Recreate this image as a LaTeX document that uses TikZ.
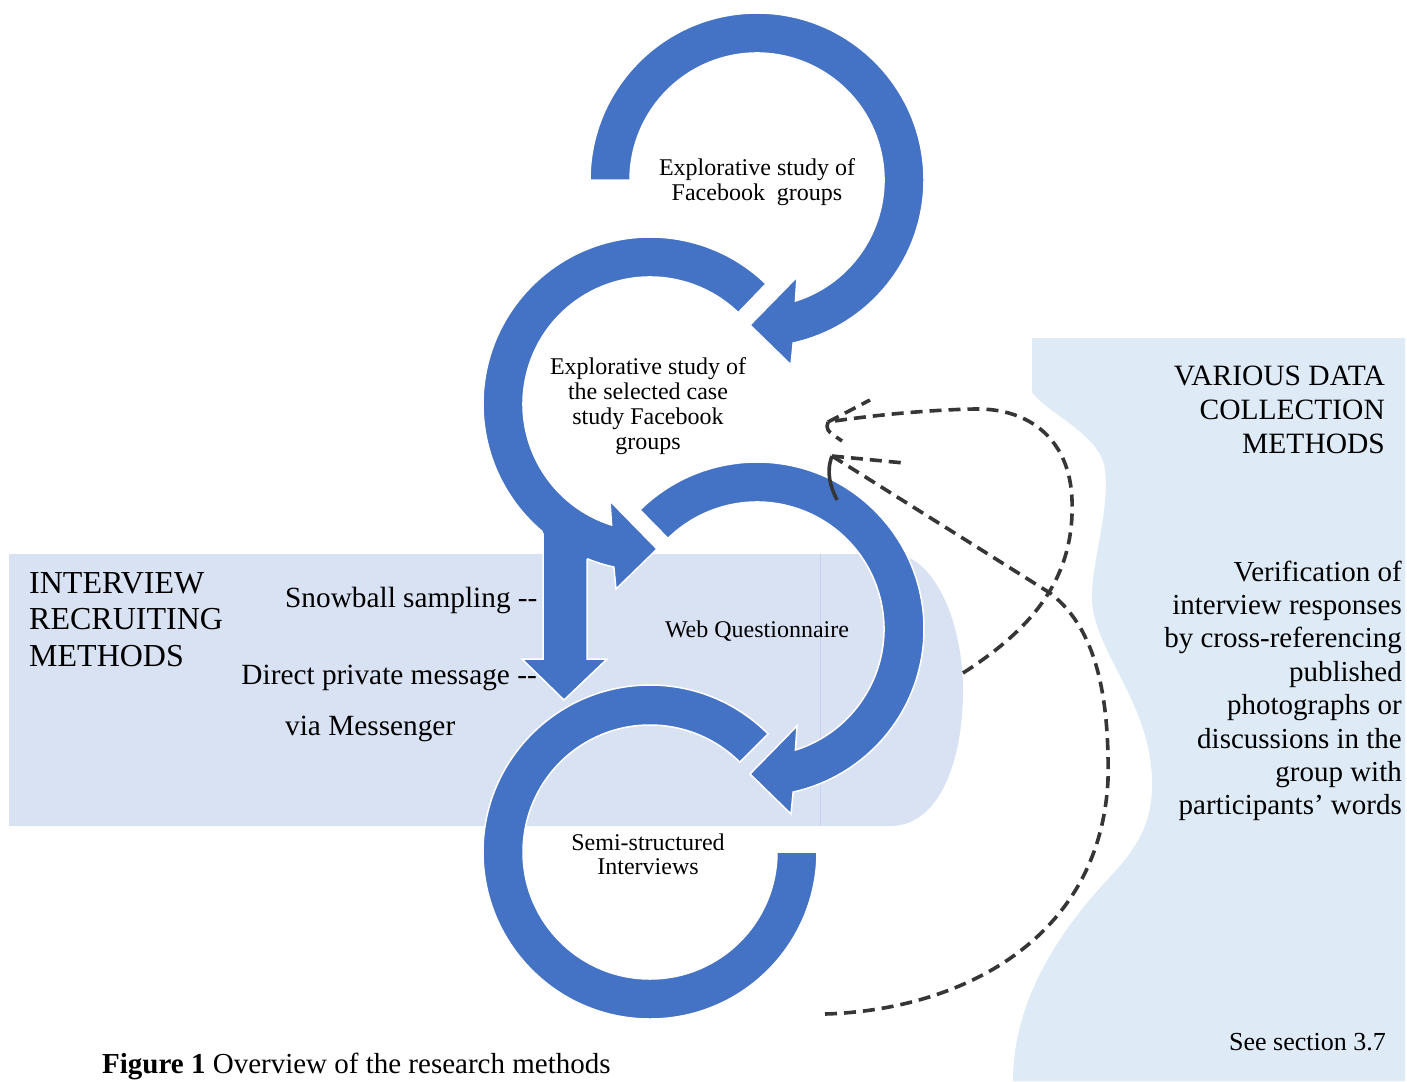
\documentclass[tikz,border=0pt]{standalone}
\usepackage{fontspec}
\setmainfont{Liberation Serif}
\definecolor{ringblue}{HTML}{4472C4}
\definecolor{bandblue}{HTML}{D9E2F3}
\definecolor{panelblue}{HTML}{DEEBF7}
\definecolor{dashgray}{HTML}{363636}
\definecolor{seamblue}{HTML}{C5D3EC}
\newcommand{\txtlines}[2]{\begin{tabular}[t]{@{}#1@{}}#2\end{tabular}}
\begin{document}
\begin{tikzpicture}[x=1pt,y=-1pt,
  ringshape/.style={fill=ringblue, draw=white, line width=1.5pt},
  dashconn/.style={draw=dashgray, line width=3.6pt, dash pattern=on 12pt off 7pt},
  solidbarb/.style={draw=dashgray, line width=3.6pt},
  lbl/.style={inner sep=0pt, anchor=base, text=black},
]
\useasboundingbox (0,0) rectangle (1407,1081);
\clip (0,0) rectangle (1407,1081);
\fill[white] (0,0) rectangle (1407,1081);

% left band
\fill[bandblue] (9,554) -- (900,554) .. controls (940,565) and (963,630) .. (963,690)
  .. controls (963,760) and (940,826) .. (890,826) -- (9,826) -- cycle;
\draw[seamblue, line width=0.8pt] (820,554) -- (820,826);

% right panel
\fill[panelblue] (1032,338) -- (1405,338) -- (1405,1081) -- (1013,1081)
  .. controls (1013,1000) and (1060,930) .. (1110,877)
  .. controls (1140,845) and (1153,820) .. (1152,780)
  .. controls (1150,700) and (1092,650) .. (1092,597)
  .. controls (1092,560) and (1110,510) .. (1105,470)
  .. controls (1102,435) and (1045,412) .. (1032,392) -- cycle;

% ring 1
\begin{scope}[shift={(757,180)}]
\path[ringshape] (180:167) arc[start angle=180, end angle=437.5, radius=167]
  -- (34,185) -- (-7,145) -- (40,97) -- (432.4:127)
  arc[start angle=432.4, end angle=180, radius=127] -- cycle;
\end{scope}
% ring 2
\begin{scope}[shift={(650,404)}, xscale=-1]
\path[ringshape] (226:167) arc[start angle=226, end angle=437.5, radius=167]
  -- (34,185) -- (-7,145) -- (40,97) -- (432.4:127)
  arc[start angle=432.4, end angle=226, radius=127] -- cycle;
\end{scope}
% ring 3
\begin{scope}[shift={(757,629)}]
\path[ringshape] (225.5:167) arc[start angle=225.5, end angle=437.5, radius=167]
  -- (34,185) -- (-7,145) -- (40,97) -- (432.4:127)
  arc[start angle=432.4, end angle=225.5, radius=127] -- cycle;
\end{scope}
% ring 4
\begin{scope}[shift={(650,852)}, xscale=-1]
\path[ringshape] (225:167) arc[start angle=225, end angle=540, radius=167]
  -- (540:127) arc[start angle=540, end angle=225, radius=127] -- cycle;
\end{scope}

% down arrow
\fill[ringblue] (543,520) -- (543,659) -- (522,659) -- (564,700) -- (607,659) -- (587,659) -- (587,520) -- cycle;
\draw[white, line width=1.5pt] (543,533) -- (543,659) -- (522,659) -- (564,700) -- (607,659) -- (587,659) -- (587,559);

% texts
\node[lbl, font=\fontsize{24}{25}\selectfont] (t1) at (757,175) {\txtlines{c}{Explorative study of\\Facebook~ groups}};
\node[lbl, font=\fontsize{24}{25}\selectfont] (t2) at (648,374) {\txtlines{c}{Explorative study of\\the selected case\\study Facebook\\groups}};
\node[lbl, font=\fontsize{24}{25}\selectfont] (t3) at (757,637) {Web Questionnaire};
\node[lbl, font=\fontsize{24}{24.5}\selectfont] (t4) at (648,850) {\txtlines{c}{Semi-structured\\Interviews}};
\node[lbl, anchor=base west, font=\fontsize{32}{36.5}\selectfont] (t5) at (29,593) {\txtlines{l}{INTERVIEW\\RECRUITING\\METHODS}};
\node[lbl, anchor=base west, font=\fontsize{29.3}{34}\selectfont] (t6) at (285,607) {Snowball sampling -{}-};
\node[lbl, anchor=base east, font=\fontsize{29.3}{34}\selectfont] (t7) at (537,684) {Direct private message -{}-};
\node[lbl, anchor=base west, font=\fontsize{29.3}{34}\selectfont] (t8) at (285,735) {via Messenger};
\node[lbl, anchor=base east, font=\fontsize{29.5}{34}\selectfont] (t9) at (1385,385) {\txtlines{r}{VARIOUS DATA\\COLLECTION\\METHODS}};
\node[lbl, anchor=base east, font=\fontsize{29}{33.4}\selectfont] (t10) at (1402,581) {\txtlines{r}{Verification of\\interview responses\\by cross-referencing\\published\\photographs or\\discussions in the\\group with\\participants’ words}};
\node[lbl, anchor=base east, font=\fontsize{26}{30}\selectfont] (t11) at (1386,1050) {See section 3.7};
\node[lbl, anchor=base west, font=\fontsize{29}{33}\selectfont] (cap) at (102,1073) {\textbf{Figure 1} Overview of the research methods};

% dashed connectors
\coordinate (a0) at (963,673);
\coordinate (a1) at (828,422);
\coordinate (a2) at (870,400);
\coordinate (a3) at (842,441);
\draw[dashconn] (a0) .. controls (1030,630) and (1075,580) .. (1072,500)
  .. controls (1070,440) and (1030,408) .. (975,409)
  .. controls (920,410) and (860,417) .. (a1);
\draw[dashconn] (a1) -- (a2);
\draw[dashconn] (a1) .. controls (826,430) .. (a3);

\coordinate (b0) at (825,1014);
\coordinate (b1) at (832,456);
\coordinate (b2) at (904,463);
\coordinate (b3) at (837,500);
\draw[dashconn] (b0) .. controls (960,1010) and (1100,940) .. (1108,780)
  .. controls (1110,670) and (1085,620) .. (1050,593) -- (b1);
\draw[dashconn] (b1) -- (b2);
\draw[solidbarb] (b1) .. controls (826,472) and (830,486) .. (b3);
\end{tikzpicture}
\end{document}
